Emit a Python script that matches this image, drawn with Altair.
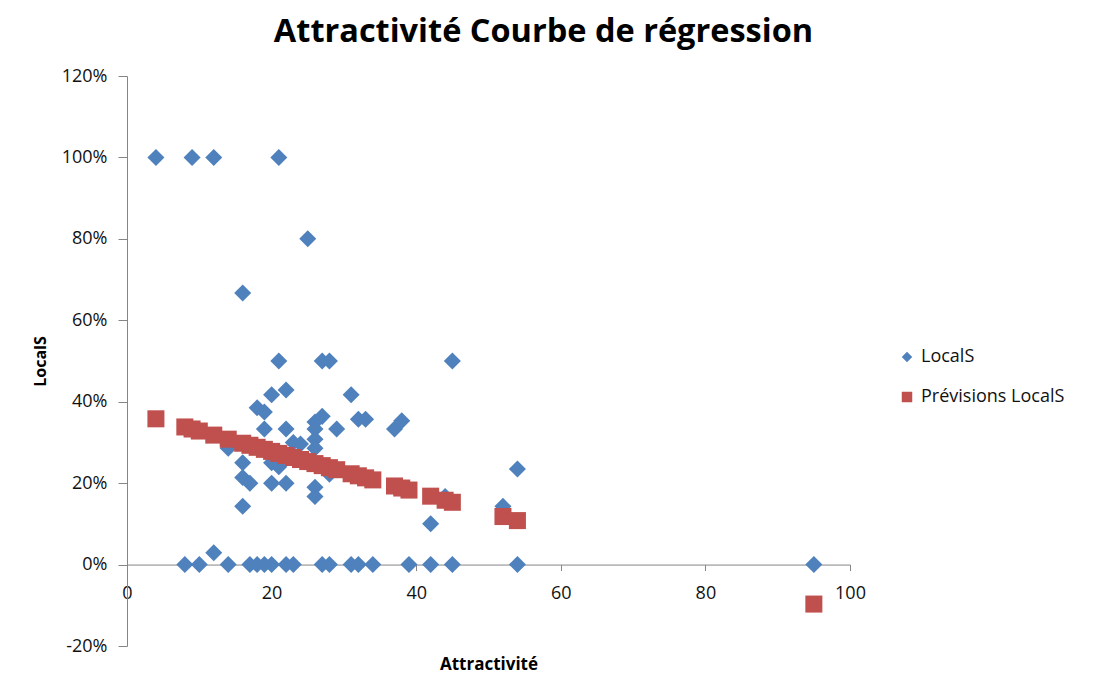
import altair as alt
import pandas as pd

# Observed LocalS (x = Attractivité, y = LocalS in %)
obs_x = [4, 9, 12, 21,
         25, 16,
         21, 27, 28, 45,
         20, 22, 31,
         18, 19,
         27, 26, 32, 33, 38, 37,
         19, 22, 26, 29,
         26, 23, 24,
         14, 26,
         16, 20, 21,
         16, 17, 20, 22,
         28, 26, 26, 16,
         54, 44, 52, 42, 12,
         8, 10, 14, 17, 18, 19, 20, 22, 23, 27, 28, 31, 32, 34, 39, 42, 45, 54, 95]
obs_y = [100, 100, 100, 100,
         80, 66.7,
         50, 50, 50, 50,
         41.7, 42.9, 41.7,
         38.5, 37.5,
         36.4, 35.0, 35.7, 35.7, 35.3, 33.3,
         33.3, 33.3, 33.3, 33.3,
         30.8, 30.0, 29.6,
         28.6, 28.6,
         25.0, 25.0, 24.0,
         21.4, 20.0, 20.0, 20.0,
         22.2, 19.0, 16.7, 14.3,
         23.5, 16.7, 14.3, 10.0, 2.9,
         0, 0, 0, 0, 0, 0, 0, 0, 0, 0, 0, 0, 0, 0, 0, 0, 0, 0, 0]

# Prévisions LocalS (regression predictions, in %)
pred_x = [4, 8, 9, 10, 12, 14, 16, 17, 18, 19, 20, 21, 22, 23, 24, 25, 26, 27, 28, 29,
          31, 32, 33, 34, 37, 38, 39, 42, 44, 45, 52, 54, 95]
pred_y = [35.8, 33.8, 33.3, 32.8, 31.8, 30.8, 29.8, 29.3, 28.8, 28.3, 27.8, 27.3, 26.8,
          26.3, 25.8, 25.3, 24.8, 24.3, 23.8, 23.3, 22.3, 21.8, 21.3, 20.8, 19.3, 18.8,
          18.3, 16.8, 15.8, 15.3, 11.8, 10.8, -9.7]

series_names = ["LocalS", "Prévisions LocalS"]
series_colors = ["#4F81BD", "#C0504D"]
series_shapes = ["diamond", "square"]

x_ticks = [0, 20, 40, 60, 80, 100]
y_ticks = [-20, 0, 20, 40, 60, 80, 100, 120]

df = pd.concat([
    pd.DataFrame({"x": obs_x, "y": obs_y, "series": series_names[0]}),
    pd.DataFrame({"x": pred_x, "y": pred_y, "series": series_names[1]}),
], ignore_index=True)

FONT = "Open Sans"
AXIS_COLOR = "#868686"

W, H = 723, 570
zero_offset = -(20.0 / 140.0) * H

chart = alt.Chart(df).mark_point(filled=True, opacity=1, size=290).encode(
    x=alt.X("x:Q",
            scale=alt.Scale(domain=[0, 100], nice=False, zero=False),
            axis=alt.Axis(values=x_ticks, grid=False, offset=zero_offset,
                          title="Attractivité", titleFont=FONT, titleFontSize=17,
                          titleFontWeight="bold", titleColor="#000000",
                          titleY=105, titleBaseline="alphabetic",
                          labelFont=FONT, labelFontSize=18, labelColor="#111111",
                          labelPadding=14, tickSize=6, tickColor=AXIS_COLOR,
                          domainColor=AXIS_COLOR, labelFlush=False)),
    y=alt.Y("y:Q",
            scale=alt.Scale(domain=[-20, 120], nice=False, zero=False),
            axis=alt.Axis(values=y_ticks, grid=False,
                          labelExpr="datum.value + '%'",
                          title="LocalS", titleFont=FONT, titleFontSize=16,
                          titleFontWeight="bold", titleColor="#000000",
                          titleX=-82, titleBaseline="alphabetic",
                          labelFont=FONT, labelFontSize=18, labelColor="#111111",
                          labelPadding=11, tickSize=9, tickColor=AXIS_COLOR,
                          domainColor=AXIS_COLOR, labelFlush=False)),
    color=alt.Color("series:N", title=None,
                    scale=alt.Scale(domain=series_names, range=series_colors),
                    legend=alt.Legend(orient="none", legendX=771, legendY=272,
                                      labelFont=FONT, labelFontSize=18,
                                      labelColor="#111111", symbolSize=110,
                                      rowPadding=22, labelOffset=5, padding=0,
                                      labelLimit=300, symbolStrokeWidth=0)),
    shape=alt.Shape("series:N", title=None,
                    scale=alt.Scale(domain=series_names, range=series_shapes)),
).properties(
    width=W, height=H,
    autosize="none",
    padding={"left": 119, "top": 68, "right": 238, "bottom": 37},
    title=alt.TitleParams("Attractivité Courbe de régression", font=FONT,
                          fontSize=32.5, fontWeight="bold", color="#000000",
                          anchor="middle", frame="group", dx=55, offset=19),
).configure_view(strokeWidth=0)

chart.save("out.html", embed_options={"renderer": "svg", "actions": False})
